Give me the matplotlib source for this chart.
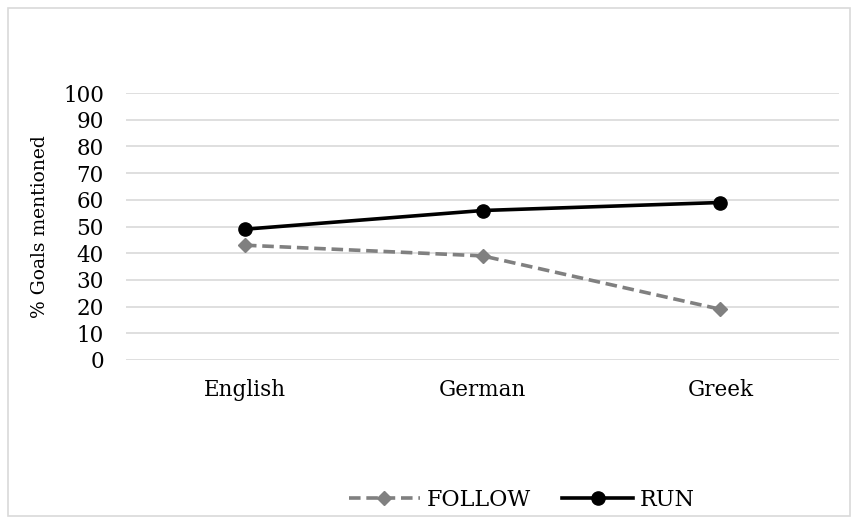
import numpy as np
import matplotlib.pyplot as plt
from matplotlib.patches import Rectangle

plt.rcParams['font.family'] = ['DejaVu Serif']
plt.rcParams['font.size'] = 15.5

languages = ['English', 'German', 'Greek']
follow = [43, 39, 19]
run = [49, 56, 59]
yticks = list(range(0, 101, 10))

fig = plt.figure(figsize=(8.52, 5.17), dpi=100)
ax = fig.add_axes([0.148, 0.3037, 0.837, 0.5163])

x = np.arange(len(languages))
ax.plot(x, follow, color='#808080', linestyle=(0, (3.2, 1.6)), linewidth=2.6,
        marker='D', markersize=7, label='FOLLOW')
ax.plot(x, run, color='black', linewidth=2.6, marker='o', markersize=9.5,
        label='RUN')

ax.set_xlim(-0.5, 2.5)
ax.set_ylim(0, 100)
ax.set_yticks(yticks)
ax.set_xticks(x)
ax.set_xticklabels(languages)
ax.yaxis.grid(True, color='#d9d9d9', linewidth=1.2)
ax.set_axisbelow(True)
for s in ax.spines.values():
    s.set_visible(False)
ax.tick_params(length=0)
ax.tick_params(axis='y', pad=16)
ax.tick_params(axis='x', pad=14)
ax.set_ylabel('% Goals mentioned', fontsize=13.5, labelpad=10)

ax.legend(loc='center', bbox_to_anchor=(0.555, -0.525), ncol=2, frameon=False,
          fontsize=16, handlelength=3.2, columnspacing=1.4, handletextpad=0.3)

# thin frame around the chart
fig.patches.append(Rectangle((8 / 852, 1 / 517), 842 / 852, 508 / 517,
                             transform=fig.transFigure, fill=False,
                             edgecolor='#d9d9d9', linewidth=1.2))

plt.savefig('out.png', dpi=100)
